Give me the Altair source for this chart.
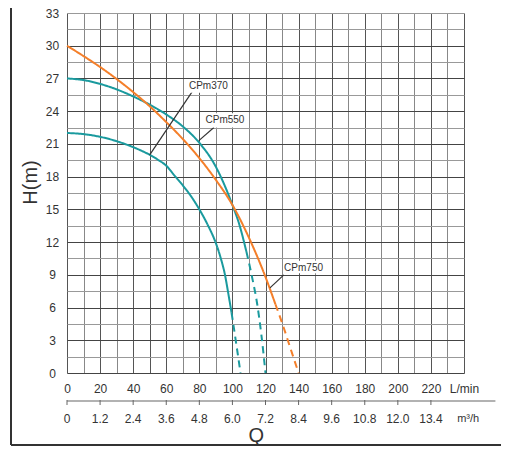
import altair as alt
import pandas as pd

# pump curves (Q in L/min, H in m)
q370 = [0, 10, 20, 30, 40, 50, 55, 60, 65, 70, 75, 80, 85, 90, 93, 95.5, 97.5, 99.5]
h370 = [22, 21.9, 21.65, 21.25, 20.7, 20.0, 19.55, 19.0, 18.1, 17.2, 16.2, 15.0, 13.6, 11.9, 10.5, 9.0, 7.3, 5.5]
q370_ext = [99.5, 102, 104.9]
h370_ext = [5.5, 3, 0]

q550 = [0, 10, 20, 30, 40, 50, 60, 70, 80, 90, 95, 100, 104, 108.5]
h550 = [27, 26.85, 26.5, 26.0, 25.35, 24.6, 23.7, 22.6, 21.1, 18.9, 17.3, 15.4, 13.7, 11.1]
q550_ext = [108.5, 112, 115, 117.5, 120]
h550_ext = [11.1, 8.7, 6.3, 3.5, 0]

q750 = [0, 10, 20, 30, 40, 50, 60, 70, 80, 90, 100, 110, 120, 126]
h750 = [30, 29.05, 28.05, 26.95, 25.75, 24.45, 23.0, 21.45, 19.7, 17.7, 15.4, 12.4, 8.8, 6.3]
q750_ext = [126, 130, 135, 140]
h750_ext = [6.3, 4.6, 2.3, 0]

names = ["CPm370", "CPm550", "CPm750"]
colors = ["#1a9a9e", "#1a9a9e", "#f47f2a"]

# label boxes and leader lines
label_q = [85.5, 95.5, 143]
label_h = [26.3, 23.15, 9.65]
box_q0 = [73.5, 83.5, 131.5]
box_q1 = [97.5, 107.5, 155]
box_h0 = [25.7, 22.5, 9.15]
box_h1 = [26.9, 23.8, 10.3]
lead_q0 = [50, 79.7, 122.7]
lead_h0 = [20, 21.3, 7.8]
lead_q1 = [75.7, 88.8, 131.1]
lead_h1 = [25.8, 22.5, 9.0]

# second (m3/h) scale under the L/min axis
flow_lmin = [0, 20, 40, 60, 80, 100, 120, 140, 160, 180, 200, 220]
flow_m3h = ["0", "1.2", "2.4", "3.6", "4.8", "6.0", "7.2", "8.4", "9.6", "10.8", "12.0", "13.4"]

rows = []
for name, parts in [
    ("CPm370", [(q370, h370, "solid"), (q370_ext, h370_ext, "dashed")]),
    ("CPm550", [(q550, h550, "solid"), (q550_ext, h550_ext, "dashed")]),
    ("CPm750", [(q750, h750, "solid"), (q750_ext, h750_ext, "dashed")]),
]:
    for qs, hs, part in parts:
        for q, h in zip(qs, hs):
            rows.append({"series": name, "part": part, "q": q, "h": h})
curves = pd.DataFrame(rows)

labels = pd.DataFrame({
    "name": names, "q": label_q, "h": label_h,
    "q0": box_q0, "q1": box_q1, "h0": box_h0, "h1": box_h1,
})
leaders = pd.DataFrame({"q": lead_q0, "h": lead_h0, "q2": lead_q1, "h2": lead_h1})
scale2 = pd.DataFrame({"q": flow_lmin, "lab": flow_m3h})

FONT = "Liberation Sans"
xscale = alt.Scale(domain=[0, 240], nice=False, zero=False)
yscale = alt.Scale(domain=[0, 33], nice=False, zero=False)

xaxis = alt.Axis(
    values=list(range(0, 241, 10)), tickCount=100,
    labelExpr="datum.value == 240 ? 'L/min' : (datum.value % 20 == 0 ? datum.label : '')",
    grid=True, gridWidth=1,
    gridColor=alt.condition("datum.value % 20 == 0 || datum.value == 50", alt.value("#555"), alt.value("#888")),
    ticks=False, tickSize=0, domain=False,
    labelFont=FONT, labelFontSize=12, labelColor="#333", labelPadding=10,
    labelOverlap=False, labelFlush=False,
)
yaxis = alt.Axis(
    values=[i * 1.5 for i in range(23)], tickCount=100,
    labelExpr="datum.value % 3 == 0 ? format(datum.value, 'd') : ''",
    grid=True, gridWidth=1,
    gridColor=alt.condition("datum.value % 3 == 0 && datum.value < 33", alt.value("#444"), alt.value("#999")),
    ticks=False, tickSize=0, domain=False,
    labelFont=FONT, labelFontSize=12, labelColor="#333",
    labelAlign="center", labelPadding=15, labelOverlap=False, labelFlush=False,
    title="H(m)", titleFont=FONT, titleFontSize=20, titleFontWeight="normal",
    titleColor="#333", titleAngle=270, titleX=-37, titleY=169,
    titleAlign="center", titleBaseline="middle",
)

X = alt.X("q:Q", scale=xscale, axis=xaxis, title=None)
Y = alt.Y("h:Q", scale=yscale, axis=yaxis, title="H(m)")

lines = alt.Chart(curves).mark_line(interpolate="monotone", strokeWidth=2).encode(
    x=X, y=Y,
    color=alt.Color("series:N", scale=alt.Scale(domain=names, range=colors), legend=None),
    strokeDash=alt.StrokeDash("part:N", scale=alt.Scale(domain=["solid", "dashed"], range=[[1, 0], [7, 5]]), legend=None),
)

lead = alt.Chart(leaders).mark_rule(color="#333", strokeWidth=1.2).encode(
    x=X, y=Y, x2="q2:Q", y2="h2:Q"
)

boxes = alt.Chart(labels).mark_rect(color="white").encode(
    x=alt.X("q0:Q", scale=xscale, title=None), x2="q1:Q",
    y=alt.Y("h0:Q", scale=yscale, title="H(m)"), y2="h1:Q",
)

texts = alt.Chart(labels).mark_text(font=FONT, fontSize=10, color="#333").encode(
    x=X, y=Y, text="name:N"
)

# m3/h scale drawn under the plot
axis_line = alt.Chart(pd.DataFrame({"q": [0], "q2": [259]})).mark_rule(color="#999", strokeWidth=1.6).encode(
    x=X, x2="q2:Q", y=alt.value(388)
)
axis_ticks = alt.Chart(scale2).mark_rule(color="#666", strokeWidth=1).encode(
    x=X, y=alt.value(387), y2=alt.value(392)
)
axis_labels = alt.Chart(scale2).mark_text(font=FONT, fontSize=12, color="#333", baseline="middle").encode(
    x=X, y=alt.value(405.5), text="lab:N"
)
unit = alt.Chart(pd.DataFrame({"q": [242.5], "t": ["m³/h"]})).mark_text(
    font=FONT, fontSize=11, color="#333", baseline="middle"
).encode(x=X, y=alt.value(405.5), text="t:N")
qtitle = alt.Chart(pd.DataFrame({"q": [114.5], "t": ["Q"]})).mark_text(
    font=FONT, fontSize=20, color="#333", baseline="middle"
).encode(x=X, y=alt.value(423), text="t:N")

# outer frame (left and bottom)
frame_left = alt.Chart(pd.DataFrame({"a": [0]})).mark_rule(color="#333", strokeWidth=2).encode(
    x=alt.value(-56), y=alt.value(-13), y2=alt.value(432)
)
frame_bottom = alt.Chart(pd.DataFrame({"a": [0]})).mark_rule(color="#333", strokeWidth=2).encode(
    x=alt.value(-56), x2=alt.value(434), y=alt.value(432)
)

chart = alt.layer(
    lines, lead, boxes, texts, axis_line, axis_ticks, axis_labels, unit, qtitle,
    frame_left, frame_bottom,
).properties(
    width=397, height=360,
    autosize=alt.AutoSizeParams(type="none"),
    padding={"left": 59, "top": 5, "right": 46, "bottom": 80},
).configure_view(stroke=None).configure(background="white")

chart.save("out.html", embed_options={"renderer": "svg", "actions": False})
